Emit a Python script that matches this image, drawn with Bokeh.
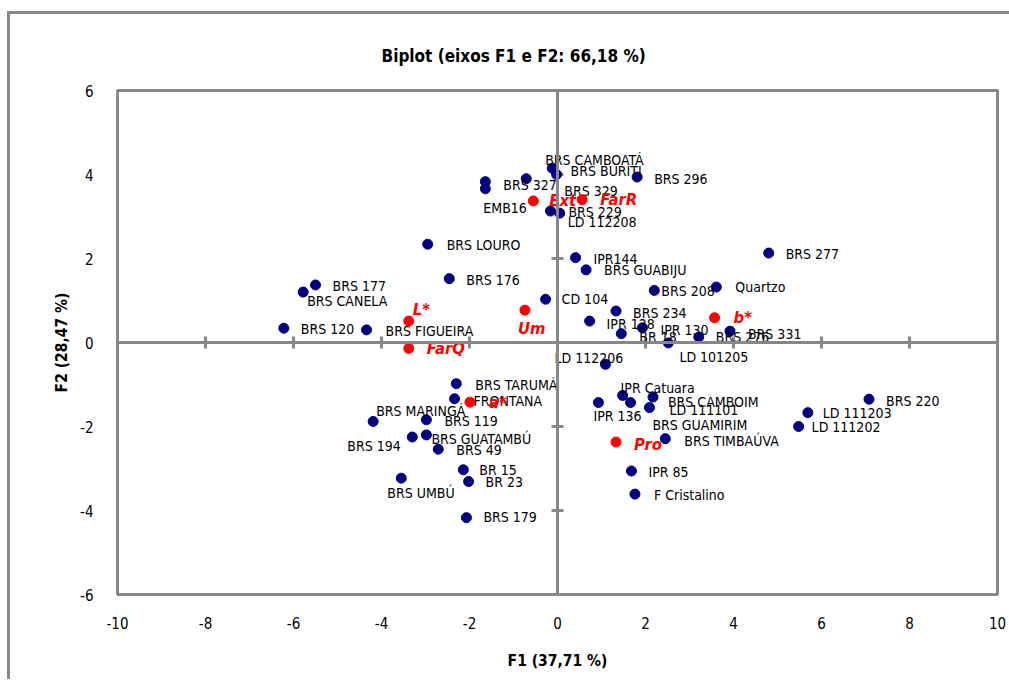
import math
from bokeh.plotting import figure
from bokeh.models import ColumnDataSource, Span, FixedTicker, Range1d
from bokeh.core.properties import value
from bokeh.embed import file_html
from bokeh.resources import INLINE

# ---------------- data ----------------
obs_names = [
    "BRS CAMBOATÁ", "BRS BURITI", "BRS 296", "BRS 327", "BRS 329", "EMB16", "BRS 229", "LD 112208",
    "BRS LOURO", "BRS 176", "BRS 177", "BRS CANELA", "BRS 120", "BRS FIGUEIRA",
    "CD 104", "IPR144", "BRS GUABIJU", "BRS 277", "BRS 208", "Quartzo", "BRS 234", "IPR 128",
    "BR 18", "IPR 130", "LD 101205", "BRS 276", "BRS 331", "LD 112206",
    "BRS TARUMÁ", "FRONTANA", "BRS MARINGÁ", "BRS 119", "BRS 194", "BRS GUATAMBÚ", "BRS 49",
    "BR 15", "BR 23", "BRS UMBÚ", "BRS 179",
    "IPR 136", "IPR  Catuara", "BRS GUAMIRIM", "BRS CAMBOIM", "LD 111101", "BRS TIMBAÚVA",
    "IPR 85", "F Cristalino", "BRS 220", "LD 111203", "LD 111202",
]
obs_f1 = [
    -0.12, -0.02, 1.81, -1.64, -0.71, -1.64, -0.16, 0.05,
    -2.95, -2.46, -5.50, -5.78, -6.22, -4.34,
    -0.27, 0.41, 0.65, 4.80, 2.20, 3.61, 1.33, 0.73,
    1.45, 1.93, 2.52, 3.21, 3.92, 1.09,
    -2.30, -2.34, -4.19, -2.98, -3.30, -2.98, -2.71,
    -2.14, -2.02, -3.55, -2.07,
    0.93, 1.48, 2.09, 2.17, 1.66, 2.45,
    1.68, 1.76, 7.08, 5.69, 5.48,
]
obs_f2 = [
    4.15, 4.00, 3.94, 3.83, 3.90, 3.66, 3.13, 3.08,
    2.34, 1.52, 1.37, 1.20, 0.34, 0.30,
    1.03, 2.02, 1.73, 2.13, 1.24, 1.32, 0.75, 0.51,
    0.21, 0.35, -0.01, 0.13, 0.27, -0.52,
    -0.98, -1.34, -1.88, -1.84, -2.25, -2.20, -2.54,
    -3.03, -3.31, -3.23, -4.17,
    -1.43, -1.26, -1.55, -1.30, -1.43, -2.29,
    -3.06, -3.61, -1.35, -1.67, -2.00,
]

var_names = ["Ext", "FarR", "L*", "FarQ", "Um", "b*", "a*", "Pro"]
var_f1 = [-0.55, 0.56, -3.38, -3.38, -0.74, 3.57, -1.99, 1.33]
var_f2 = [3.37, 3.40, 0.51, -0.14, 0.77, 0.59, -1.42, -2.37]

X_TICKS = [-10, -8, -6, -4, -2, 0, 2, 4, 6, 8, 10]
Y_TICKS = [-6, -4, -2, 0, 2, 4, 6]

TITLE = "Biplot (eixos F1 e F2: 66,18 %)"
X_TITLE = "F1 (37,71 %)"
Y_TITLE = "F2 (28,47 %)"

# label placement (pixel offsets of each label from its point)
obs_dx = [-7, 14, 17, 18, 38, -2, 18, 8,
          19, 17, 17, 4, 17, 19,
          16, 18, 18, 17, 7, 19, 17, 17,
          18, 18, 11, 17, 18, -51,
          19, 19, 3, 18, -65, 5, 18,
          16, 17, -14, 17,
          -5, -2, 3, 15, 39, 19,
          17, 19, 17, 15, 13]
obs_dy = [-8, -4, 2, 3, 12, 19, 1, 9,
          1, 1, 1, 9, 1, 1,
          0, 1, 0, 1, 1, 0, 2, 3,
          3, 2, 14, 0, 3, -6,
          1, 2, -10, 1, 9, 4, 1,
          0, 0, 15, -1,
          13, -7, 17, 5, 7, 2,
          1, 1, 2, 0, 0]
var_dx = [16, 18, 4, 18, -7, 19, 19, 18]
var_dy = [0, 0, -12, 0, 18, 0, 0, 2]

# ---------------- styles ----------------
GRAY = "#878787"
NAVY = "#000080"
RED = "#FF0000"
COND = "DejaVu Sans Condensed"

p = figure(
    frame_width=880, frame_height=504,
    min_border_left=117, min_border_right=12, min_border_top=90, min_border_bottom=85,
    x_range=Range1d(-10, 10), y_range=Range1d(-6, 6),
    output_backend="svg", toolbar_location=None,
    background_fill_color="white", border_fill_color=None,
)
# outer chart border (top and left edges) drawn behind the transparent canvas border
p.styles = {
    "background": (
        f"linear-gradient({GRAY},{GRAY}) 8px 11px / 100% 3px no-repeat, "
        f"linear-gradient({GRAY},{GRAY}) 7px 11px / 3px 100% no-repeat, white"
    )
}
p.outline_line_color = GRAY
p.outline_line_width = 3
p.xgrid.visible = False
p.ygrid.visible = False

p.title.text = TITLE
p.title.align = "left"
p.title.offset = 264
p.title.standoff = 49
p.title.text_font = COND
p.title.text_font_size = "17px"
p.title.text_font_style = "bold"
p.title.text_color = "black"

for ax, ticks in ((p.xaxis, X_TICKS), (p.yaxis, Y_TICKS)):
    ax.ticker = FixedTicker(ticks=ticks)
    ax.major_label_overrides = {t: str(t) for t in ticks}
    ax.axis_line_color = None
    ax.major_tick_line_color = None
    ax.minor_tick_line_color = None
    ax.major_label_text_font = COND
    ax.major_label_text_font_size = "15px"
    ax.major_label_text_color = "black"
    ax.axis_label_text_font = COND
    ax.axis_label_text_font_size = "15.5px"
    ax.axis_label_text_font_style = "bold"
    ax.axis_label_text_color = "black"

p.xaxis.major_label_standoff = 16
p.xaxis.axis_label = X_TITLE
p.xaxis.axis_label_standoff = 20
p.yaxis.major_label_standoff = 18
p.yaxis.axis_label = Y_TITLE
p.yaxis.axis_label_standoff = 6

# centre axes
p.add_layout(Span(location=0, dimension="height", line_color=GRAY, line_width=3))
p.add_layout(Span(location=0, dimension="width", line_color=GRAY, line_width=3))
xm = [t for t in X_TICKS if t not in (0, X_TICKS[0], X_TICKS[-1])]
ym = [t for t in Y_TICKS if t not in (0, Y_TICKS[0], Y_TICKS[-1])]
p.scatter(x=xm, y=[0] * len(xm), marker="dash", size=12, angle=math.pi / 2,
          line_color=GRAY, line_width=3)
p.scatter(x=[0] * len(ym), y=ym, marker="dash", size=12,
          line_color=GRAY, line_width=3)

# observations
obs = ColumnDataSource(dict(x=obs_f1, y=obs_f2, name=obs_names, dx=obs_dx, dy=obs_dy))
p.scatter("x", "y", source=obs, marker="circle", size=10, fill_color=NAVY, line_color=NAVY)
p.text("x", "y", text="name", x_offset="dx", y_offset="dy", source=obs,
       text_font=value(COND), text_font_size="14px", text_color="black",
       text_align="left", text_baseline="middle")

# variables
var = ColumnDataSource(dict(x=var_f1, y=var_f2, name=var_names, dx=var_dx, dy=var_dy))
p.scatter("x", "y", source=var, marker="circle", size=10, fill_color=RED, line_color=RED)
p.text("x", "y", text="name", x_offset="dx", y_offset="dy", source=var,
       text_font=value(COND), text_font_size="16.5px", text_font_style="bold italic",
       text_color=RED, text_align="left", text_baseline="middle")

open("out.html", "w").write(file_html(p, INLINE))
